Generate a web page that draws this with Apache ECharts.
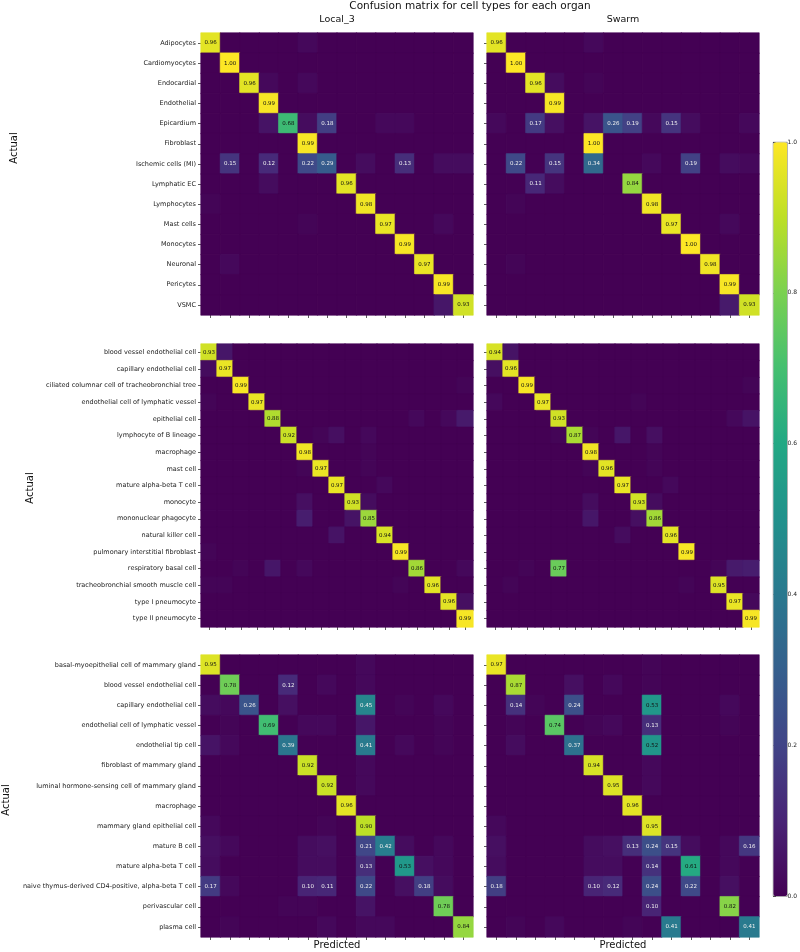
<!DOCTYPE html>
<html>
<head>
<meta charset="utf-8">
<script src="https://cdn.jsdelivr.net/npm/echarts@6/dist/echarts.min.js"></script>
<style>html,body{margin:0;padding:0;background:#fff}#c{width:800px;height:952px}</style>
</head>
<body>
<div id="c"></div>
<script>
const heartLabels = ['Adipocytes','Cardiomyocytes','Endocardial','Endothelial','Epicardium','Fibroblast','Ischemic cells (MI)','Lymphatic EC','Lymphocytes','Mast cells','Monocytes','Neuronal','Pericytes','VSMC'];
const lungLabels = ['blood vessel endothelial cell','capillary endothelial cell','ciliated columnar cell of tracheobronchial tree','endothelial cell of lymphatic vessel','epithelial cell','lymphocyte of B lineage','macrophage','mast cell','mature alpha-beta T cell','monocyte','mononuclear phagocyte','natural killer cell','pulmonary interstitial fibroblast','respiratory basal cell','tracheobronchial smooth muscle cell','type I pneumocyte','type II pneumocyte'];
const mammaryLabels = ['basal-myoepithelial cell of mammary gland','blood vessel endothelial cell','capillary endothelial cell','endothelial cell of lymphatic vessel','endothelial tip cell','fibroblast of mammary gland','luminal hormone-sensing cell of mammary gland','macrophage','mammary gland epithelial cell','mature B cell','mature alpha-beta T cell','naive thymus-derived CD4-positive, alpha-beta T cell','perivascular cell','plasma cell'];
const panelTitles = ['Local_3','Swarm'];
const colorbarTicks = [0, 0.2, 0.4, 0.6, 0.8, 1.0];

const heartLocal = [
[0.96,0,0,0,0,0.02,0,0,0,0,0,0,0,0],
[0,1.00,0,0,0,0,0,0,0,0,0,0,0,0],
[0,0,0.96,0.02,0,0.02,0,0,0,0,0,0,0,0],
[0,0,0,0.99,0,0,0,0,0,0,0,0,0,0],
[0,0,0,0.05,0.68,0.03,0.18,0,0,0.02,0.02,0,0,0],
[0,0,0,0,0,0.99,0,0,0,0,0,0,0,0],
[0,0.15,0,0.12,0,0.22,0.29,0,0.03,0,0.13,0,0.03,0.03],
[0,0,0,0.03,0,0,0,0.96,0,0,0,0,0,0],
[0.01,0,0,0,0,0,0,0,0.98,0,0,0,0,0],
[0,0,0,0,0,0.01,0,0,0,0.97,0,0,0.02,0],
[0,0,0,0,0,0,0,0,0,0,0.99,0,0,0],
[0,0.02,0,0,0,0,0,0,0,0,0,0.97,0,0],
[0,0,0,0,0,0,0,0,0,0,0,0,0.99,0],
[0,0,0,0,0,0,0,0,0,0,0,0,0.06,0.93]
];
const heartSwarm = [
[0.96,0,0,0,0,0.02,0,0,0,0,0,0,0,0],
[0,1.00,0,0,0,0,0,0,0,0,0,0,0,0],
[0,0,0.96,0.03,0,0.01,0,0,0,0,0,0,0,0],
[0,0,0,0.99,0,0,0,0,0,0,0,0,0,0],
[0.02,0,0.17,0.04,0,0.05,0.26,0.19,0.02,0.15,0.03,0,0,0.02],
[0,0,0,0,0,1.00,0,0,0,0,0,0,0,0],
[0,0.22,0,0.15,0,0.34,0,0,0.02,0,0.19,0,0.03,0.02],
[0,0,0.11,0.03,0,0,0,0.84,0,0,0,0,0,0],
[0,0.01,0,0,0,0,0,0,0.98,0,0,0,0,0],
[0,0,0,0,0,0,0,0,0,0.97,0,0,0.02,0],
[0,0,0,0,0,0,0,0,0,0,1.00,0,0,0],
[0,0.01,0,0,0,0,0,0,0,0,0,0.98,0,0],
[0,0,0,0,0,0,0,0,0,0,0,0,0.99,0],
[0,0,0,0,0,0,0,0,0,0,0,0,0.07,0.93]
];
const lungLocal = [
[0.93,0.06,0,0,0,0,0,0,0,0,0,0,0,0,0,0,0],
[0.03,0.97,0,0,0,0,0,0,0,0,0,0,0,0,0,0,0],
[0,0,0.99,0,0,0,0,0,0,0,0,0,0,0,0,0,0.01],
[0.01,0,0,0.97,0,0,0,0,0,0,0,0,0,0,0,0,0],
[0,0,0,0,0.88,0,0,0,0,0,0,0,0,0.02,0,0.02,0.07],
[0,0,0,0,0,0.92,0,0.01,0.04,0,0.02,0,0,0,0,0,0],
[0,0,0,0,0,0,0.98,0,0,0,0.01,0,0,0,0,0,0],
[0,0,0,0,0,0,0.01,0.97,0,0,0.01,0,0,0,0,0,0],
[0,0,0,0,0,0,0,0,0.97,0,0,0.02,0,0,0,0,0],
[0,0,0,0,0,0,0.04,0,0,0.93,0.03,0,0,0,0,0,0],
[0,0,0,0,0,0,0.08,0,0,0.05,0.85,0,0,0,0,0,0],
[0,0,0,0,0,0,0,0,0.05,0,0,0.94,0,0,0,0,0],
[0.01,0,0,0,0,0,0,0,0,0,0,0,0.99,0,0,0,0],
[0,0,0.01,0,0.06,0,0.02,0,0,0,0,0,0,0.86,0,0,0.02],
[0.01,0.01,0,0,0,0,0,0,0,0,0,0,0.01,0,0.96,0,0],
[0,0,0,0,0,0,0,0,0,0,0,0,0,0,0,0.96,0.04],
[0,0,0,0,0,0,0,0,0,0,0,0,0,0,0,0,0.99]
];
const lungSwarm = [
[0.94,0.05,0,0,0,0,0,0,0,0,0,0,0,0,0,0,0],
[0.04,0.96,0,0,0,0,0,0,0,0,0,0,0,0,0,0,0],
[0,0,0.99,0,0,0,0,0,0,0,0,0,0,0,0,0,0.01],
[0.02,0,0,0.97,0,0,0,0,0,0.01,0,0,0,0,0,0,0],
[0,0,0,0,0.93,0,0,0,0,0,0,0,0,0,0,0.02,0.05],
[0,0,0,0,0.01,0.87,0.01,0,0.06,0,0.04,0,0,0,0,0,0],
[0,0,0,0,0,0,0.98,0,0,0,0.01,0,0,0,0,0,0],
[0,0,0,0,0,0,0.01,0.96,0,0,0.01,0,0,0,0,0,0],
[0,0,0,0,0,0,0,0,0.97,0,0,0.02,0,0,0,0,0],
[0,0,0,0,0,0,0.03,0,0,0.93,0.03,0,0,0,0,0,0],
[0,0,0,0,0,0,0.06,0,0,0.04,0.86,0,0,0,0,0,0],
[0,0,0,0,0,0,0,0,0.03,0,0,0.96,0,0,0,0,0],
[0,0,0,0,0,0,0,0,0,0,0,0,0.99,0,0,0,0],
[0,0,0.01,0,0.77,0,0,0,0,0,0,0,0,0,0.01,0.07,0.08],
[0,0.01,0,0,0,0,0,0,0,0,0,0,0.01,0,0.95,0,0],
[0,0,0,0,0,0,0,0,0,0,0,0,0,0,0,0.97,0.02],
[0,0,0,0,0,0,0,0,0,0,0,0,0,0,0,0,0.99]
];
const mammaryLocal = [
[0.95,0,0,0,0,0,0,0,0.02,0,0,0,0,0],
[0,0.78,0,0,0.12,0,0.02,0,0.02,0,0,0,0,0],
[0.03,0.02,0.26,0,0.04,0,0,0,0.45,0,0.01,0,0.02,0],
[0,0.01,0,0.69,0,0.02,0.02,0,0.06,0,0,0,0.01,0],
[0.05,0.02,0,0,0.39,0,0,0,0.41,0,0.02,0,0.01,0],
[0,0,0,0,0,0.92,0,0,0.02,0,0,0,0,0],
[0,0,0,0,0,0,0.92,0,0.02,0,0,0,0,0],
[0,0,0,0,0,0,0,0.96,0,0,0,0,0,0],
[0.02,0,0,0,0,0,0.01,0,0.90,0,0,0,0,0],
[0.04,0.02,0,0,0,0.03,0.04,0,0.21,0.42,0.03,0,0.02,0],
[0.03,0,0,0,0,0.03,0.03,0,0.13,0,0.53,0.04,0.02,0],
[0.17,0.02,0,0,0,0.10,0.11,0,0.22,0,0.04,0.18,0.03,0],
[0,0,0,0,0.01,0.01,0,0,0.05,0,0,0,0.78,0],
[0,0.01,0,0,0,0,0.02,0,0.02,0.02,0,0,0,0.84]
];
const mammarySwarm = [
[0.97,0,0,0,0,0,0,0,0.01,0,0,0,0,0],
[0,0.87,0,0,0.04,0,0.02,0,0.01,0,0,0,0,0],
[0,0.14,0.01,0,0.24,0,0,0,0.53,0,0,0,0.02,0],
[0,0.01,0,0.74,0,0.01,0.02,0,0.13,0,0,0,0.01,0],
[0,0.03,0,0,0.37,0,0,0,0.52,0,0,0,0,0],
[0,0,0,0,0,0.94,0,0,0.02,0,0,0,0,0],
[0,0,0,0,0,0,0.95,0,0.02,0,0,0,0,0],
[0,0,0,0,0,0,0,0.96,0,0,0,0,0,0],
[0.02,0,0,0,0,0,0,0,0.95,0,0,0,0,0],
[0.04,0,0,0,0,0.03,0.04,0.13,0.24,0.15,0.03,0,0.02,0.16],
[0.03,0,0,0,0,0.03,0.03,0,0.14,0,0.61,0,0.02,0],
[0.18,0,0,0,0,0.10,0.12,0,0.24,0,0.22,0,0.04,0],
[0,0,0,0,0,0,0,0,0.10,0,0,0,0.82,0],
[0,0.01,0,0.02,0,0,0,0.01,0,0.41,0,0,0,0.41]
];

const viridis = ['#440154','#482475','#414487','#355f8d','#2a788e','#21918c','#22a884','#44bf70','#7ad151','#bddf26','#fde725'];

// same linear interpolation as the visualMap, used only for seam-free cell borders
function hexToRgb(h) { return [parseInt(h.slice(1,3),16), parseInt(h.slice(3,5),16), parseInt(h.slice(5,7),16)]; }
function viridisAt(v) {
  const t = Math.max(0, Math.min(1, v)) * (viridis.length - 1);
  const i = Math.min(Math.floor(t), viridis.length - 2);
  const f = t - i;
  const a = hexToRgb(viridis[i]), b = hexToRgb(viridis[i + 1]);
  return 'rgb(' + a.map((c, k) => Math.round(c + (b[k] - c) * f)).join(',') + ')';
}

const panels = [
  {m: heartLocal, labels: heartLabels, left: 201, top: 33, h: 282, showLabels: true},
  {m: heartSwarm, labels: heartLabels, left: 487, top: 33, h: 282, showLabels: false},
  {m: lungLocal, labels: lungLabels, left: 201, top: 344, h: 283, showLabels: true},
  {m: lungSwarm, labels: lungLabels, left: 487, top: 344, h: 283, showLabels: false},
  {m: mammaryLocal, labels: mammaryLabels, left: 201, top: 655, h: 282, showLabels: true},
  {m: mammarySwarm, labels: mammaryLabels, left: 487, top: 655, h: 282, showLabels: false}
];

const FONT = 'DejaVu Sans';
const grid = [], xAxis = [], yAxis = [], series = [];
panels.forEach((p, k) => {
  grid.push({left: p.left, top: p.top, width: 272, height: p.h, containLabel: false});
  xAxis.push({type: 'category', gridIndex: k, data: p.labels, position: 'bottom',
    axisLine: {show: false}, axisLabel: {show: false, interval: 0}, splitLine: {show: false},
    axisTick: {show: true, interval: 0, alignWithLabel: true, length: 3, lineStyle: {color: '#333', width: 0.8}}});
  yAxis.push({type: 'category', gridIndex: k, data: p.labels, inverse: true,
    axisLine: {show: false}, splitLine: {show: false},
    axisTick: {show: true, interval: 0, alignWithLabel: true, length: 3, lineStyle: {color: '#333', width: 0.8}},
    axisLabel: {show: p.showLabels, fontSize: 6.5, color: '#222', margin: 5, fontFamily: FONT, interval: 0}});
  const data = [];
  p.m.forEach((row, i) => row.forEach((v, j) => data.push({value: [j, i, v], itemStyle: {borderColor: viridisAt(v), borderWidth: 0.6}})));
  series.push({type: 'heatmap', xAxisIndex: k, yAxisIndex: k, data: data,
    emphasis: {disabled: true},
    label: {show: true, fontFamily: FONT, fontSize: 5.5,
      formatter: (q) => {
        const v = q.value[2];
        if (v < 0.095) return '';
        return (v > 0.5 ? '{d|' : '{l|') + v.toFixed(2) + '}';
      },
      rich: {d: {color: '#111', fontSize: 5.5, fontFamily: FONT}, l: {color: '#f0f0f0', fontSize: 5.5, fontFamily: FONT}}
    }});
});

// colorbar axis
grid.push({left: 773, top: 142, width: 14, height: 754, show: false});
xAxis.push({type: 'value', gridIndex: 6, show: false, min: 0, max: 1});
yAxis.push({type: 'value', gridIndex: 6, min: 0, max: 1, interval: 0.2, position: 'right',
  axisLine: {show: false}, splitLine: {show: false},
  axisTick: {show: true, length: 3, lineStyle: {color: '#333', width: 0.8}},
  axisLabel: {fontSize: 6, color: '#222', margin: 4, fontFamily: FONT,
    formatter: (v) => colorbarTicks.indexOf(Math.round(v * 10) / 10) >= 0 ? v.toFixed(1) : ''}});

const option = {
  animation: false,
  backgroundColor: '#fff',
  textStyle: {fontFamily: FONT},
  grid, xAxis, yAxis, series,
  visualMap: {
    type: 'continuous', min: 0, max: 1, seriesIndex: [0,1,2,3,4,5],
    show: true, calculable: false, text: null, showLabel: false,
    left: 773, top: 142, itemWidth: 14, itemHeight: 754, padding: 0,
    inRange: {color: viridis}, borderColor: '#333', borderWidth: 0.5,
    textStyle: {fontSize: 0}
  },
  graphic: [
    {type: 'text', x: 470, y: 6, style: {text: 'Confusion matrix for cell types for each organ', font: '10.5px "DejaVu Sans"', fill: '#111', align: 'center', verticalAlign: 'middle'}},
    {type: 'text', x: 337, y: 20, style: {text: panelTitles[0], font: '9.5px "DejaVu Sans"', fill: '#111', align: 'center', verticalAlign: 'middle'}},
    {type: 'text', x: 623, y: 20, style: {text: panelTitles[1], font: '9.5px "DejaVu Sans"', fill: '#111', align: 'center', verticalAlign: 'middle'}},
    {type: 'text', x: 14, y: 148, rotation: Math.PI / 2, style: {text: 'Actual', font: '10px "DejaVu Sans"', fill: '#111', align: 'center', verticalAlign: 'middle'}},
    {type: 'text', x: 30, y: 488, rotation: Math.PI / 2, style: {text: 'Actual', font: '10px "DejaVu Sans"', fill: '#111', align: 'center', verticalAlign: 'middle'}},
    {type: 'text', x: 6, y: 800, rotation: Math.PI / 2, style: {text: 'Actual', font: '10px "DejaVu Sans"', fill: '#111', align: 'center', verticalAlign: 'middle'}},
    {type: 'text', x: 337, y: 945, style: {text: 'Predicted', font: '10px "DejaVu Sans"', fill: '#111', align: 'center', verticalAlign: 'middle'}},
    {type: 'text', x: 623, y: 945, style: {text: 'Predicted', font: '10px "DejaVu Sans"', fill: '#111', align: 'center', verticalAlign: 'middle'}}
  ]
};
const chart = echarts.init(document.getElementById('c'), null, {renderer: 'canvas'});
chart.setOption(option);
</script>
</body>
</html>
